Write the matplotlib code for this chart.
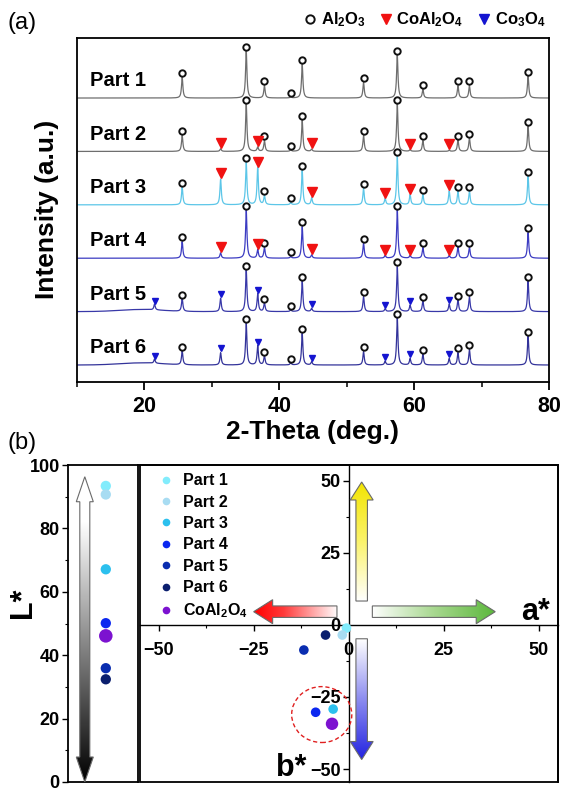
import numpy as np
import matplotlib
matplotlib.use('Agg')
import matplotlib.pyplot as plt
from matplotlib.patches import Polygon, Ellipse, Rectangle
from matplotlib.colors import LinearSegmentedColormap
from matplotlib.lines import Line2D
from matplotlib.ticker import MultipleLocator

plt.rcParams['font.family'] = ['Liberation Sans', 'DejaVu Sans']
plt.rcParams['font.weight'] = 'bold'
plt.rcParams['mathtext.fontset'] = 'custom'
plt.rcParams['mathtext.rm'] = 'Liberation Sans:bold'
plt.rcParams['mathtext.it'] = 'Liberation Sans:bold'
plt.rcParams['mathtext.bf'] = 'Liberation Sans:bold'
plt.rcParams['mathtext.default'] = 'rm'
plt.rcParams['axes.linewidth'] = 1.3

# ---------------- panel (a): XRD data ----------------
parts = ['Part 1', 'Part 2', 'Part 3', 'Part 4', 'Part 5', 'Part 6']
al2o3_pos = [25.6, 35.1, 37.8, 41.7, 43.4, 52.5, 57.5, 61.3, 66.5, 68.2, 76.9]
al2o3_h = [
    [0.39, 0.88, 0.23, 0.02, 0.63, 0.29, 0.80, 0.16, 0.23, 0.23, 0.41],
    [0.30, 0.89, 0.20, 0.03, 0.58, 0.30, 0.89, 0.20, 0.21, 0.25, 0.47],
    [0.33, 0.79, 0.17, 0.04, 0.64, 0.31, 0.91, 0.19, 0.25, 0.26, 0.54],
    [0.31, 0.90, 0.20, 0.03, 0.59, 0.28, 0.90, 0.20, 0.21, 0.21, 0.48],
    [0.24, 0.78, 0.16, 0.03, 0.57, 0.28, 0.84, 0.20, 0.22, 0.28, 0.57],
    [0.26, 0.78, 0.17, 0.04, 0.59, 0.25, 0.88, 0.20, 0.23, 0.29, 0.54],
]
spinel_pos = [31.3, 36.8, 44.8, 55.7, 59.4, 65.2]
spinel_pos_part2 = [31.3, 36.8, 44.8, 59.4, 65.2]
co3o4_pos = [21.5, 31.3, 36.8, 44.8, 55.7, 59.4, 65.2]
second_pos = [[], spinel_pos_part2, spinel_pos, spinel_pos, co3o4_pos, co3o4_pos]
second_h = [
    [],
    [0.05, 0.08, 0.04, 0.03, 0.02],
    [0.48, 0.70, 0.13, 0.12, 0.19, 0.26],
    [0.10, 0.16, 0.06, 0.05, 0.05, 0.05],
    [0.11, 0.25, 0.33, 0.06, 0.05, 0.12, 0.14],
    [0.08, 0.23, 0.36, 0.06, 0.07, 0.12, 0.12],
]
second_kind = [None, 'CoAl2O4', 'CoAl2O4', 'CoAl2O4', 'Co3O4', 'Co3O4']
hump_h = [0.0, 0.0, 0.0, 0.0, 0.04, 0.04]
trace_colors = ['#6e6e6e', '#6e6e6e', '#5cc6e8', '#3c3cc2', '#3838a8', '#33339a']
xrd_ticks = [20, 40, 60, 80]

# ---------------- panel (b): colour data ----------------
color_labels = ['Part 1', 'Part 2', 'Part 3', 'Part 4', 'Part 5', 'Part 6', r'CoAl$_2$O$_4$']
L_values = [93.4, 90.7, 67.1, 50.1, 35.9, 32.4, 46.1]
a_values = [-0.6, -1.7, -4.1, -8.7, -11.8, -6.1, -4.4]
b_values = [-1.1, -3.5, -29.2, -30.3, -8.7, -3.5, -34.3]
point_colors = ['#82ecfc', '#a8dcf2', '#2cc0ee', '#0b27f0', '#0a2db0', '#0b1f6e', '#7c12d0']
L_ticks = [0, 20, 40, 60, 80, 100]
ab_ticks = [-50, -25, 0, 25, 50]

fig = plt.figure(figsize=(5.65, 7.95), dpi=100)

# ================= panel (a) =================
axa = fig.add_axes([77/565, 1-382/795, 472/565, 344/795])
x = np.linspace(10, 80, 3501)
w = 0.12


def peaks(pos, h):
    y = np.zeros_like(x)
    for p, hh in zip(pos, h):
        y += hh / (1 + ((x - p) / w) ** 2)
    return y


for i in range(6):
    off = 5 - i
    y = peaks(al2o3_pos, al2o3_h[i]) + peaks(second_pos[i], second_h[i])
    y += hump_h[i] * np.exp(-((x - 19.5) / 4.5) ** 2)
    axa.plot(x, off + y, color=trace_colors[i], lw=0.9, zorder=2)
    axa.plot(al2o3_pos, off + np.array(al2o3_h[i]) + 0.08, 'o', ls='none',
             mfc='none', mec='#111111', ms=4.6, mew=1.4, zorder=4)
    if second_kind[i] == 'CoAl2O4':
        axa.plot(second_pos[i], off + np.array(second_h[i]) + 0.11, 'v', ls='none',
                 color='#f01212', ms=7.0, zorder=4)
    elif second_kind[i] == 'Co3O4':
        axa.plot(second_pos[i], off + np.array(second_h[i]) + 0.08, 'v', ls='none',
                 color='#1414d0', ms=4.2, zorder=4)
    axa.text(12.0, off + 0.22, parts[i], fontsize=14.5, fontweight='bold',
             ha='left', va='baseline', zorder=5)

axa.set_xlim(10, 80)
axa.set_ylim(-0.318, 6.124)
axa.set_yticks([])
axa.set_xticks(xrd_ticks)
axa.xaxis.set_minor_locator(MultipleLocator(10))
axa.tick_params(axis='x', which='major', direction='out', length=6, width=1.3,
                labelsize=15.5, pad=4)
axa.tick_params(axis='x', which='minor', direction='out', length=3.5, width=1.1)
for lab in axa.get_xticklabels():
    lab.set_fontweight('bold')
axa.text(0.5, -0.145, '2-Theta (deg.)', transform=axa.transAxes, ha='center',
         va='center', fontsize=19, fontweight='bold')
axa.text(-0.064, 0.503, 'Intensity (a.u.)', transform=axa.transAxes, ha='center',
         va='center', rotation=90, fontsize=19, fontweight='bold')

leg_handles = [
    Line2D([], [], marker='o', ls='none', mfc='none', mec='#111111', ms=6, mew=1.4),
    Line2D([], [], marker='v', ls='none', color='#f01212', ms=7.5),
    Line2D([], [], marker='v', ls='none', color='#1414d0', ms=7.5),
]
leg_labels = [r'Al$_2$O$_3$', r'CoAl$_2$O$_4$', r'Co$_3$O$_4$']
axa.legend(leg_handles, leg_labels, ncol=3, loc='center right',
           bbox_to_anchor=(0.992, 1.052), frameon=False, fontsize=12,
           handlelength=0.6, handletextpad=0.35, columnspacing=0.9,
           borderpad=0.0, borderaxespad=0.0)

fig.text(22/565, 1-23/795, '(a)', ha='center', va='center', fontsize=17,
         fontweight='normal')
fig.text(22/565, 1-443/795, '(b)', ha='center', va='center', fontsize=17,
         fontweight='normal')


# ================= gradient arrow helper =================
def grad_arrow(ax, start, end, shaft, head_w, head_l, cmap, double=False,
               edge='#6a6a6a'):
    T = ax.transData
    p0 = T.transform(start)
    p1 = T.transform(end)
    d = p1 - p0
    L = np.hypot(*d)
    u = d / L
    n = np.array([-u[1], u[0]])
    hb1 = p1 - u * head_l
    if double:
        hb0 = p0 + u * head_l
        verts = [p0, hb0 + n * head_w / 2, hb0 + n * shaft / 2,
                 hb1 + n * shaft / 2, hb1 + n * head_w / 2, p1,
                 hb1 - n * head_w / 2, hb1 - n * shaft / 2,
                 hb0 - n * shaft / 2, hb0 - n * head_w / 2]
    else:
        verts = [p0 + n * shaft / 2, hb1 + n * shaft / 2, hb1 + n * head_w / 2, p1,
                 hb1 - n * head_w / 2, hb1 - n * shaft / 2, p0 - n * shaft / 2]
    vd = T.inverted().transform(np.array(verts))
    poly = Polygon(vd, closed=True, fc='none', ec=edge, lw=0.8, zorder=3)
    ax.add_patch(poly)
    xmin, ymin = vd.min(0)
    xmax, ymax = vd.max(0)
    g = np.linspace(0, 1, 256)
    if abs(u[0]) > abs(u[1]):
        arr = g[None, :] if u[0] > 0 else g[None, ::-1]
    else:
        arr = g[:, None] if u[1] > 0 else g[::-1, None]
    im = ax.imshow(arr, cmap=cmap, extent=(xmin, xmax, ymin, ymax), origin='lower',
                   aspect='auto', interpolation='bilinear', zorder=2, vmin=0, vmax=1)
    im.set_clip_path(poly)


# ================= panel (b) left: L* =================
axl = fig.add_axes([68/565, 1-782/795, 70/565, 317/795])
axl.set_xlim(0, 1)
axl.set_ylim(0, 100)
axl.set_xticks([])
axl.set_yticks(L_ticks)
axl.yaxis.set_minor_locator(MultipleLocator(10))
axl.tick_params(axis='y', which='major', direction='out', length=4, width=1.0,
                labelsize=13, pad=2)
axl.tick_params(axis='y', which='minor', direction='out', length=2.5, width=0.8)
for lab in axl.get_yticklabels():
    lab.set_fontweight('bold')
axl.text(-0.64, 0.565, 'L*', transform=axl.transAxes, rotation=90, ha='center',
         va='center', fontsize=22, fontweight='bold')
cm_L = LinearSegmentedColormap.from_list('Lg', [(0, 'white'), (0.15, 'white'), (1, 'black')])
grad_arrow(axl, (0.24, 96.3), (0.24, 0.0), 10, 17, 25, cm_L, double=True)
sizes_l = [55] * 6 + [95]
for i in range(7):
    axl.scatter([0.54], [L_values[i]], s=sizes_l[i], color=point_colors[i],
                edgecolors='none', zorder=5)
axl.set_xlim(0, 1)
axl.set_ylim(0, 100)

# ================= panel (b) right: a*, b* =================
axr = fig.add_axes([139.5/565, 1-782/795, 418.5/565, 317/795])
axr.set_xlim(-55, 55)
axr.set_ylim(-54.5, 55.5)
axr.spines['left'].set_position('zero')
axr.spines['bottom'].set_position('zero')
axr.spines['left'].set_linewidth(1.0)
axr.spines['bottom'].set_linewidth(1.0)
axr.add_patch(Rectangle((0, 0), 1, 1, transform=axr.transAxes, fill=False,
                        lw=1.3, ec='black', clip_on=False, zorder=6))
axr.set_xticks(ab_ticks)
axr.set_yticks(ab_ticks)
axr.xaxis.set_minor_locator(MultipleLocator(12.5))
axr.yaxis.set_minor_locator(MultipleLocator(12.5))
axr.tick_params(which='major', direction='out', length=4, width=1.0, labelsize=13,
                pad=2)
axr.tick_params(which='minor', direction='out', length=2.5, width=0.8)
axr.tick_params(axis='x', pad=8)
for lab in axr.get_xticklabels() + axr.get_yticklabels():
    lab.set_fontweight('bold')

cm_y = LinearSegmentedColormap.from_list('yl', ['#ffffff', '#fbf36a', '#f2e400'])
cm_r = LinearSegmentedColormap.from_list('rd', [(0, '#ffffff'), (0.65, '#ff3a3a'), (1, '#ff0000')])
cm_g = LinearSegmentedColormap.from_list('gr', ['#ffffff', '#a8d890', '#5cb83c'])
cm_b = LinearSegmentedColormap.from_list('bl', ['#ffffff', '#8c8cf0', '#2222e0'])
grad_arrow(axr, (3.4, 8.3), (3.4, 49.6), 11.5, 23, 18, cm_y)
grad_arrow(axr, (-3.1, 4.6), (-25.0, 4.6), 11.5, 24, 19, cm_r)
grad_arrow(axr, (6.2, 4.6), (38.5, 4.6), 11.5, 24, 19, cm_g)
grad_arrow(axr, (3.4, -4.8), (3.4, -46.7), 11.5, 23, 18, cm_b)

sizes_r = [48] * 6 + [80]
for i in range(7):
    axr.scatter([a_values[i]], [b_values[i]], s=sizes_r[i], color=point_colors[i],
                edgecolors='none', zorder=5, label=color_labels[i])

axr.add_patch(Ellipse((-7.1, -31.1), 15.8, 19.4, fill=False, ec='#e02020', lw=1.0,
                      ls=(0, (3, 2)), zorder=4))

axr.text(49.0, 4.6, 'a*', ha='center', va='center', fontsize=22, fontweight='bold')
axr.text(-15.0, -49.6, 'b*', ha='center', va='center', fontsize=22, fontweight='bold')

handles = [Line2D([], [], marker='o', ls='none', color=c, ms=5.5, mec='none')
           for c in point_colors]
axr.legend(handles, color_labels, loc='upper left', bbox_to_anchor=(0.0365, 0.984),
           frameon=False, fontsize=11.5, handlelength=1.0, handletextpad=0.55,
           labelspacing=0.4, borderaxespad=0.0, borderpad=0.2)
axr.set_xlim(-55, 55)
axr.set_ylim(-54.5, 55.5)

fig.savefig('out.png', dpi=100)
